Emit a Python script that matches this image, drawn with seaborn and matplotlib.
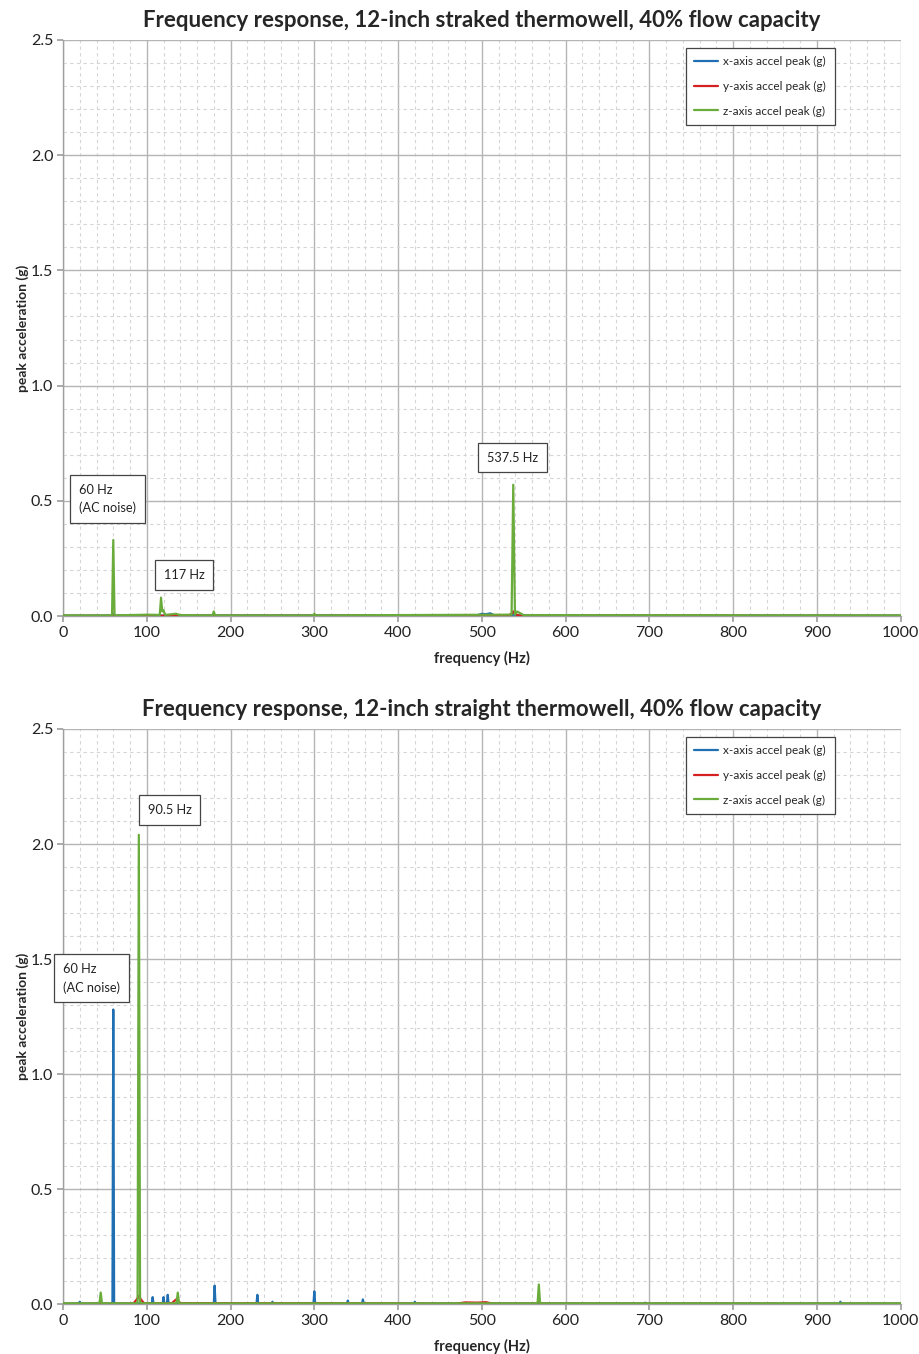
import numpy as np
import pandas as pd
import matplotlib
matplotlib.use("Agg")
import matplotlib.pyplot as plt
from matplotlib.ticker import MultipleLocator
import seaborn as sns

# ---------------- data ----------------
series_names = ["x-axis accel peak (g)", "y-axis accel peak (g)", "z-axis accel peak (g)"]

# Top chart: 12-inch straked thermowell
top_x_freq = [0, 58, 60, 62, 495, 500, 505, 510, 515, 536, 537.5, 539, 1000]
top_x_val = [0.002, 0.002, 0.01, 0.002, 0.004, 0.01, 0.008, 0.012, 0.003, 0.003, 0.015, 0.003, 0.002]
top_y_freq = [0, 530, 535, 537.5, 540, 545, 1000]
top_y_val = [0.001, 0.002, 0.008, 0.02, 0.008, 0.002, 0.001]
top_z_freq = [0, 58.5, 60, 61.5, 100, 115.5, 117, 118.5, 120, 122, 130, 135, 140, 178.5, 180, 181.5,
              298.5, 300, 301.5, 528, 535.5, 537.5, 539.5, 542, 550, 1000]
top_z_val = [0.003, 0.003, 0.33, 0.003, 0.006, 0.005, 0.08, 0.02, 0.025, 0.005, 0.008, 0.01, 0.004,
             0.003, 0.02, 0.003, 0.003, 0.01, 0.003, 0.006, 0.006, 0.57, 0.006, 0.02, 0.004, 0.003]

# Bottom chart: 12-inch straight thermowell
bot_x_freq = [0, 19, 20, 21, 59, 60, 61, 106, 107, 108, 119, 120, 121, 124, 125, 126, 180, 181, 182,
              231, 232, 233, 249, 250, 251, 299, 300, 301, 339, 340, 341, 357, 358, 359, 419, 420, 421,
              694, 695, 696, 927, 928, 929, 1000]
bot_x_val = [0.002, 0.002, 0.01, 0.002, 0.002, 1.28, 0.002, 0.002, 0.03, 0.002, 0.002, 0.03, 0.002,
             0.002, 0.04, 0.002, 0.002, 0.08, 0.002, 0.002, 0.04, 0.002, 0.002, 0.01, 0.002,
             0.002, 0.055, 0.002, 0.002, 0.015, 0.002, 0.002, 0.02, 0.002, 0.002, 0.01, 0.002,
             0.002, 0.006, 0.002, 0.002, 0.01, 0.002, 0.002]
bot_y_freq = [0, 84, 88, 90.5, 93, 97, 130, 135, 140, 470, 480, 495, 505, 512, 565, 568, 571, 1000]
bot_y_val = [0.001, 0.002, 0.02, 0.035, 0.02, 0.002, 0.004, 0.02, 0.004, 0.002, 0.007, 0.006, 0.008,
             0.002, 0.002, 0.01, 0.002, 0.001]
bot_z_freq = [0, 43.5, 45, 46.5, 89, 90.5, 92, 135.5, 137, 138.5, 566.5, 568, 569.5, 1000]
bot_z_val = [0.003, 0.003, 0.05, 0.003, 0.003, 2.04, 0.003, 0.003, 0.05, 0.003, 0.003, 0.085, 0.003, 0.003]

titles = ["Frequency response, 12-inch straked thermowell, 40% flow capacity",
          "Frequency response, 12-inch straight thermowell, 40% flow capacity"]

colors = ["#1f6fb2", "#d42020", "#6aac3c"]


def make_df(fx, vx, fy, vy, fz, vz):
    parts = []
    for name, f, v in zip(series_names, [fx, fy, fz], [vx, vy, vz]):
        parts.append(pd.DataFrame({"freq": f, "accel": v, "series": name}))
    return pd.concat(parts, ignore_index=True)


df_top = make_df(top_x_freq, top_x_val, top_y_freq, top_y_val, top_z_freq, top_z_val)
df_bot = make_df(bot_x_freq, bot_x_val, bot_y_freq, bot_y_val, bot_z_freq, bot_z_val)

# ---------------- plot ----------------
sns.set_theme(style="white")
plt.rcParams["font.family"] = ["Lato", "DejaVu Sans"]

fig = plt.figure(figsize=(9.2, 13.54), dpi=100)
ax1 = fig.add_axes([0.0685, 0.545, 0.9105, 0.4255])
ax2 = fig.add_axes([0.0685, 0.0369, 0.9105, 0.4247])

for ax, df, title in [(ax1, df_top, titles[0]), (ax2, df_bot, titles[1])]:
    sns.lineplot(data=df, x="freq", y="accel", hue="series", hue_order=series_names,
                 palette=colors, estimator=None, sort=False, linewidth=1.6, ax=ax, zorder=3)
    ax.set_xlim(0, 1000)
    ax.set_ylim(0, 2.5)
    ax.xaxis.set_major_locator(MultipleLocator(100))
    ax.xaxis.set_minor_locator(MultipleLocator(20))
    ax.yaxis.set_major_locator(MultipleLocator(0.5))
    ax.yaxis.set_minor_locator(MultipleLocator(0.1))
    ax.yaxis.set_major_formatter(matplotlib.ticker.FormatStrFormatter("%.1f"))
    ax.grid(which="major", color="#b5b5b5", linewidth=1.0, linestyle="-")
    ax.grid(which="minor", color="#d5d5d5", linewidth=0.8, linestyle=(0, (3, 3)))
    ax.set_axisbelow(True)
    for s in ["top", "right"]:
        ax.spines[s].set_visible(False)
    for s in ["left", "bottom"]:
        ax.spines[s].set_color("#a0a0a0")
        ax.spines[s].set_linewidth(1.0)
    ax.tick_params(axis="both", which="major", length=4, color="#a0a0a0", labelsize=11.5,
                   labelcolor="#222222", direction="out", bottom=True, left=True, pad=3)
    ax.tick_params(axis="both", which="minor", length=0)
    ax.set_xlabel("frequency (Hz)", fontsize=10.5, fontweight="bold", labelpad=8)
    ax.set_ylabel("peak acceleration (g)", fontsize=10, fontweight="bold", labelpad=1)
    ax.set_title(title, fontsize=16, fontweight="bold", pad=9)
    leg = ax.legend(loc="upper right", bbox_to_anchor=(0.921, 0.986), fontsize=8.5,
                    frameon=True, fancybox=False, edgecolor="#444444", framealpha=1,
                    handlelength=2.0, handletextpad=0.5, borderpad=0.7, labelspacing=1.15,
                    borderaxespad=0)
    leg.get_frame().set_linewidth(0.9)
    for line in leg.get_lines():
        line.set_linewidth(1.6)

box = dict(boxstyle="square,pad=0.7", facecolor="white", edgecolor="#444444", linewidth=0.9)
txt_kw = dict(fontsize=9.2, color="#222222", ha="left", va="center", zorder=5, bbox=box)

ax1.text(19, 0.508, "60 Hz\n(AC noise)", linespacing=1.6, **txt_kw)
ax1.text(120, 0.18, "117 Hz", **txt_kw)
ax1.text(506, 0.688, "537.5 Hz", **txt_kw)

ax2.text(101, 2.146, "90.5 Hz", **txt_kw)
t = ax2.text(0, 1.417, "60 Hz\n(AC noise)", linespacing=1.6, clip_on=False, **txt_kw)

fig.savefig("out.png", dpi=100, facecolor="white")
